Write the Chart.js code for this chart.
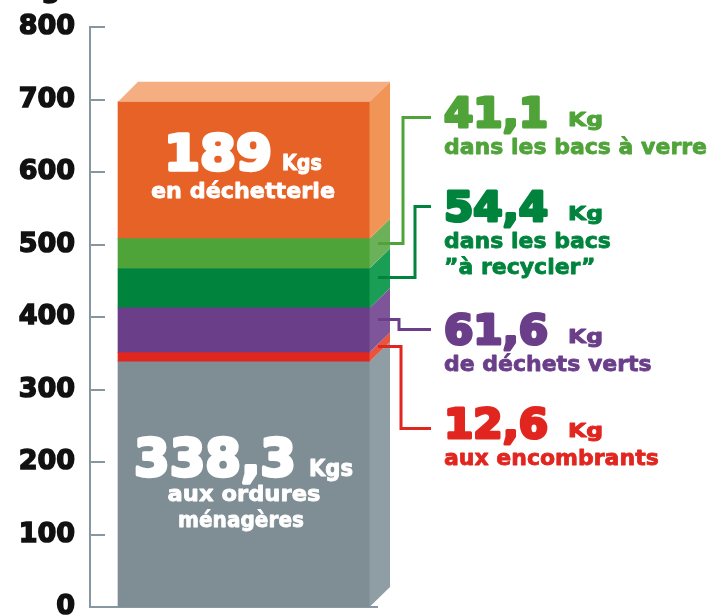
<html><head><meta charset="utf-8">
<script src="https://cdn.jsdelivr.net/npm/chart.js"></script>
<style>
 body { margin:0; background:#fff; }
 #wrap { position:relative; width:720px; height:616px; }
</style>
</head>
<body>
<div id="wrap"><canvas id="myChart"></canvas></div>
<script>
// data
var categories = ['Déchets par habitant'];
var seriesNames = ['aux ordures ménagères', 'aux encombrants', 'de déchets verts',
                   'dans les bacs "à recycler"', 'dans les bacs à verre', 'en déchetterie'];
var seriesValues = [338.3, 12.6, 61.6, 54.4, 41.1, 189];
var yMin = 0, yMax = 800, yStep = 100;

var frontColors = ['#7f8e95', '#e1251f', '#6a3e89', '#00843d', '#4fa439', '#e66226'];
var sideColors  = ['#8f9da4', '#e8553f', '#7d5598', '#1a9e56', '#6ab15a', '#f19557'];
var topColor = '#f5ae82';
var axisColor = '#8797a0';
var FONT = "'DejaVu Sans'";
var D = 20; // depth of the fake 3d

function fmt(v) { return String(v).replace('.', ','); }

// text helper: optional target width (horizontal squeeze) and stroke to fake a heavier weight
function txt(ctx, s, x, y, size, color, w, align, sw) {
  ctx.save();
  ctx.font = 'bold ' + size + 'px ' + FONT;
  ctx.fillStyle = color;
  ctx.strokeStyle = color;
  ctx.textBaseline = 'alphabetic';
  var m = ctx.measureText(s).width;
  var sx = w ? w / m : 1;
  var x0 = x;
  if (align === 'center') x0 = x - m * sx / 2;
  ctx.translate(x0, y);
  ctx.scale(sx, 1);
  ctx.textAlign = 'left';
  ctx.fillText(s, 0, 0);
  if (sw) {
    ctx.lineWidth = sw;
    ctx.lineJoin = 'round';
    ctx.strokeText(s, 0, 0);
  }
  ctx.restore();
  return m * sx;
}

// right side labels: dataset index, colour, elbow x, label y, second lines
var sideLabels = [
  { i: 4, color: '#4fa339', elbow: 403, ty: 117, base: 127, lines: ['dans les bacs à verre'] },
  { i: 3, color: '#00843d', elbow: 415, ty: 206, base: 221, lines: ['dans les bacs', '\u201dà recycler\u201d'] },
  { i: 2, color: '#6a3e89', elbow: 399, ty: 329, base: 344, lines: ['de déchets verts'] },
  { i: 1, color: '#e1251f', elbow: 401, ty: 428, base: 438, lines: ['aux encombrants'] }
];

var cube = {
  id: 'cube',
  beforeDatasetsDraw: function(chart) {
    var ctx = chart.ctx, a = chart.chartArea, ys = chart.scales.y;
    var bar = chart.getDatasetMeta(0).data[0].getProps(['x', 'width'], true);
    ctx.save();
    ctx.strokeStyle = axisColor;
    ctx.lineWidth = 2;
    ys.ticks.forEach(function(t) {
      var y = Math.round(ys.getPixelForValue(t.value));
      ctx.beginPath(); ctx.moveTo(a.left, y); ctx.lineTo(a.left + 15, y); ctx.stroke();
    });
    ctx.beginPath();
    ctx.moveTo(a.left, a.bottom); ctx.lineTo(bar.x + bar.width / 2 + 8, a.bottom);
    ctx.stroke();
    // cut off axis title above the top
    txt(ctx, 'Kg', 20, -3, 27, '#111', null, null, 1.5);
    ctx.restore();
  },
  afterDatasetsDraw: function(chart) {
    var ctx = chart.ctx;
    var n = chart.data.datasets.length;
    var els = [];
    for (var i = 0; i < n; i++) {
      els.push(chart.getDatasetMeta(i).data[0].getProps(['x', 'y', 'base', 'width'], true));
    }
    ctx.save();
    els.forEach(function(e, i) {
      var r = e.x + e.width / 2;
      ctx.fillStyle = sideColors[i];
      ctx.beginPath();
      ctx.moveTo(r - 0.5, e.y); ctx.lineTo(r + D, e.y - D);
      ctx.lineTo(r + D, e.base - D); ctx.lineTo(r - 0.5, e.base);
      ctx.closePath(); ctx.fill();
    });
    var t = els[n - 1];
    var l = t.x - t.width / 2, r = t.x + t.width / 2;
    ctx.fillStyle = topColor;
    ctx.beginPath();
    ctx.moveTo(l, t.y); ctx.lineTo(l + D, t.y - D); ctx.lineTo(r + D, t.y - D); ctx.lineTo(r, t.y);
    ctx.closePath(); ctx.fill();

    // connectors + labels on the right
    ctx.lineWidth = 3;
    ctx.lineJoin = 'miter';
    sideLabels.forEach(function(s) {
      var e = els[s.i];
      var y0 = Math.round((e.y + e.base) / 2 - 11) + 0.5;
      var x0 = e.x + e.width / 2 + 8;
      ctx.strokeStyle = s.color;
      ctx.lineWidth = 3;
      ctx.beginPath();
      ctx.moveTo(x0, y0); ctx.lineTo(s.elbow, y0); ctx.lineTo(s.elbow, s.ty + 0.5); ctx.lineTo(431, s.ty + 0.5);
      ctx.stroke();
      txt(ctx, fmt(chart.data.datasets[s.i].data[0]), 444, s.base, 40, s.color, 104, null, 3);
      txt(ctx, 'Kg', 568, s.base - 1, 19, s.color, 35, null, 1);
      s.lines.forEach(function(line, k) {
        txt(ctx, line, 444, s.base + 27 + k * 26, 22, s.color, null, null, 0.8);
      });
    });

    // labels inside the bar
    var o = els[5], g = els[0];
    var w1 = txt(ctx, fmt(seriesValues[5]), 164, o.y + 68, 50, '#fff', 108, null, 3.5);
    txt(ctx, 'Kgs', 164 + w1 + 10, o.y + 68, 21, '#fff', 40, null, 1);
    txt(ctx, 'en déchetterie', o.x - 1, o.y + 96, 22, '#fff', 184, 'center', 0.8);

    var w2 = txt(ctx, fmt(seriesValues[0]), 134, g.y + 114, 52, '#fff', 162, null, 3.5);
    txt(ctx, 'Kgs', 134 + w2 + 13, g.y + 114, 23, '#fff', 44, null, 1);
    txt(ctx, 'aux ordures', g.x, g.y + 139, 22, '#fff', 153, 'center', 0.8);
    txt(ctx, 'ménagères', g.x - 3, g.y + 165, 22, '#fff', 126, 'center', 0.8);
    ctx.restore();
  }
};

var datasets = seriesNames.map(function(name, i) {
  return {
    label: name,
    data: [seriesValues[i]],
    backgroundColor: frontColors[i],
    borderWidth: 0,
    barThickness: 252
  };
});

var ctx = document.getElementById('myChart');
var myChart = new Chart(ctx, {
  type: 'bar',
  data: { labels: categories, datasets: datasets },
  plugins: [cube],
  options: {
    responsive: true,
    maintainAspectRatio: false,
    animation: false,
    layout: { padding: { top: 27, bottom: 9, left: 0, right: 322 } },
    plugins: { legend: { display: false }, tooltip: { enabled: false } },
    scales: {
      x: { stacked: true, display: false },
      y: {
        stacked: true,
        min: yMin, max: yMax,
        ticks: { stepSize: yStep, color: '#111', padding: 15,
                 textStrokeColor: '#111', textStrokeWidth: 1.5,
                 font: { family: FONT, size: 27, weight: 'bold' } },
        grid: { display: false, drawTicks: false },
        border: { display: true, color: axisColor, width: 2 },
        afterFit: function(s) { s.width = 90; s.paddingTop = 0; s.paddingBottom = 0; }
      }
    }
  }
});
</script>
</body></html>
